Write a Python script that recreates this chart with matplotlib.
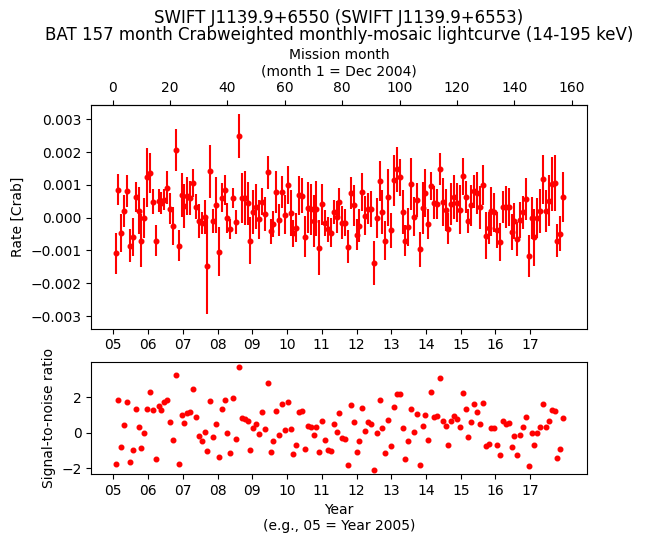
import numpy as np
import matplotlib
matplotlib.use('Agg')
import matplotlib.pyplot as plt

# monthly BAT rates, in units of 1e-3 Crab (months 1..157)
months = np.arange(1, 158)
rate = np.array([
    -1.09, 0.85, -0.46, 0.21, 0.82, -0.85, -0.58, 0.63, 0.21, -0.70,
    -0.01, 1.23, 1.36, 0.48, -0.70, 0.52, 0.44, 0.55, 0.91, 0.28,
    -0.24, 2.06, -0.85, 0.69, 0.36, 0.65, 0.60, 1.05, 0.34, -0.10,
    -0.16, 0.02, -1.48, 1.42, -0.09, 0.39, -1.04, 0.61, 0.84, -0.01,
    -0.35, 0.61, -0.13, 2.48, 0.61, 0.61, 0.44, -0.70, 0.18, 0.34,
    -0.05, 0.49, 0.11, 1.39, -0.42, -0.19, 0.78, -0.07, 0.78, 0.09,
    0.99, 0.15, -0.48, -0.30, 0.68, 0.67, -0.58, 0.30, 0.25, -0.10,
    0.27, -0.91, 0.41, -0.17, -0.36, -0.46, 0.18, 0.02, 0.48, -0.15,
    -0.15, -0.88, 0.75, 0.38, -0.52, -0.24, 0.79, 0.06, 0.28, 0.27,
    -1.39, -0.01, 1.12, 0.18, -0.70, 0.63, -0.39, 1.14, 1.48, 1.23,
    0.18, -0.70, -0.28, 1.03, 0.03, 0.55, -0.97, 0.29, 0.75, -0.19,
    0.97, 0.46, 0.43, 1.48, 0.48, 0.24, -0.33, 0.42, 0.64, 0.46,
    0.24, 1.26, 0.63, -0.09, 0.38, 0.80, 0.75, 0.32, 1.00, -0.55,
    -0.31, 0.20, 0.16, -0.38, -0.74, 0.32, 0.32, 0.32, -0.45, -0.10,
    -0.64, -0.07, 0.16, 0.58, -1.18, -0.01, -0.60, -0.01, 0.21, 1.17,
    0.20, 0.52, 1.02, 1.05, -0.70, -0.49, 0.63,
]) * 1e-3
rate_err = np.array([
    0.62, 0.47, 0.58, 0.48, 0.48, 0.51, 0.58, 0.47, 0.72, 0.80,
    0.60, 0.91, 0.60, 0.38, 0.47, 0.35, 0.34, 0.32, 0.50, 0.46,
    0.58, 0.64, 0.48, 0.68, 0.66, 0.58, 0.51, 0.43, 0.38, 0.52,
    0.33, 0.52, 1.45, 0.81, 0.37, 0.85, 0.75, 0.45, 0.46, 0.45,
    0.30, 0.31, 0.36, 0.67, 0.76, 0.82, 0.66, 0.71, 0.67, 0.68,
    0.60, 0.42, 0.52, 0.50, 0.38, 0.40, 0.63, 0.50, 0.49, 0.60,
    0.58, 0.70, 0.40, 0.43, 0.60, 0.54, 0.62, 0.78, 0.78, 0.80,
    0.84, 0.83, 0.62, 0.40, 0.38, 0.44, 0.36, 0.50, 0.43, 0.50,
    0.42, 0.49, 0.49, 0.63, 0.47, 0.50, 0.58, 0.60, 0.46, 0.54,
    0.67, 0.60, 0.62, 0.67, 0.60, 0.87, 0.52, 0.78, 0.69, 0.57,
    0.67, 0.48, 0.58, 0.79, 0.60, 0.52, 0.54, 0.80, 0.74, 0.45,
    0.42, 0.51, 0.46, 0.48, 0.72, 0.64, 0.48, 0.63, 0.67, 0.60,
    0.75, 0.57, 0.48, 0.37, 0.63, 0.49, 0.64, 0.65, 0.61, 0.72,
    0.48, 0.75, 0.60, 0.55, 0.58, 0.48, 0.64, 0.58, 0.55, 0.55,
    0.52, 0.55, 0.50, 0.64, 0.64, 0.65, 0.86, 0.60, 0.68, 0.74,
    0.63, 0.78, 0.82, 0.85, 0.50, 0.53, 0.75,
]) * 1e-3
years = list(range(2005, 2018))
year_labels = ["%02d" % (y % 100) for y in years]
month_ticks = list(range(0, 161, 20))

snr = rate / rate_err


def month_to_year(m):
    return 2005 + (m - 0.2) / 12.11


def year_to_month(y):
    return (y - 2005) * 12.11 + 0.2


x = month_to_year(months)

fig = plt.figure(figsize=(6.46, 5.43), dpi=100)
ax1 = fig.add_axes([0.1413, 0.3947, 0.7673, 0.4125])
ax2 = fig.add_axes([0.1413, 0.1271, 0.7673, 0.2057])

ax1.errorbar(x, rate, yerr=rate_err, fmt='o', color='red', ms=3.3,
             elinewidth=1.5, capsize=0)
ax1.set_xlim(2004.367, 2018.632)
ax1.set_ylim(-3.386e-3, 3.447e-3)
ax1.set_xticks(years)
ax1.set_xticklabels(year_labels)
ax1.set_yticks([-0.003, -0.002, -0.001, 0.0, 0.001, 0.002, 0.003])
ax1.set_ylabel("Rate [Crab]")

top = ax1.secondary_xaxis('top', functions=(year_to_month, month_to_year))
top.set_xticks(month_ticks)
top.set_xlabel("Mission month\n(month 1 = Dec 2004)")

ax1.set_title("SWIFT J1139.9+6550 (SWIFT J1139.9+6553)\n"
              "BAT 157 month Crabweighted monthly-mosaic lightcurve (14-195 keV)",
              fontsize=12, linespacing=0.95)

ax2.plot(x, snr, 'o', color='red', ms=3.3)
ax2.set_xlim(2004.367, 2018.632)
ax2.set_ylim(-2.32, 3.95)
ax2.set_xticks(years)
ax2.set_xticklabels(year_labels)
ax2.set_yticks([-2, 0, 2])
ax2.set_ylabel("Signal-to-noise ratio")
ax2.set_xlabel("Year\n(e.g., 05 = Year 2005)")

fig.savefig("out.png", dpi=100)
